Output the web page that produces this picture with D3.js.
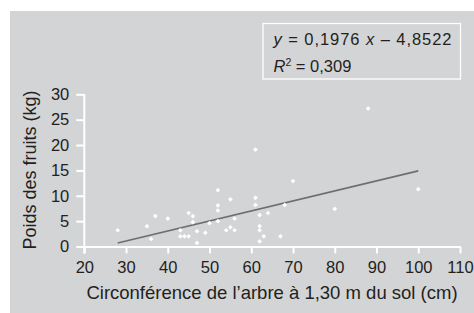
<!DOCTYPE html>
<html>
<head>
<meta charset="utf-8">
<script src="https://cdn.jsdelivr.net/npm/d3@7"></script>
<style>
  body { margin: 0; background: #fff; }
  svg { display: block; font-family: "Liberation Sans", Arial, sans-serif; }
</style>
</head>
<body>
<svg id="chart" width="474" height="313"></svg>
<script>
// circonférence (cm) / poids des fruits (kg)
const circ = [28, 35, 36, 37, 40, 43, 43, 44, 45, 45, 46, 46, 47, 47, 49, 50,
  52, 52, 52, 52, 54, 55, 55, 56, 56, 61, 61, 61, 62, 62, 62, 62, 63, 64, 67, 68,
  70, 80, 88, 100];
const poids = [3.2, 4.0, 1.5, 6.0, 5.5, 3.2, 2.0, 2.0, 2.0, 6.6, 6.0, 4.8, 3.0, 0.7, 2.7, 4.6,
  11.1, 8.1, 7.1, 5.0, 3.2, 9.3, 3.8, 5.5, 3.2, 19.1, 9.6, 8.2, 6.2, 4.0, 3.2, 1.0, 2.0, 6.6, 2.0, 8.2,
  12.9, 7.4, 27.2, 11.3];
const xTicks = [20, 30, 40, 50, 60, 70, 80, 90, 100, 110];
const yTicks = [0, 5, 10, 15, 20, 25, 30];
const slope = 0.1976, intercept = -4.8522;
const fitRange = [28, 100];

const svg = d3.select("#chart");
const ink = "#231f20";

svg.append("rect")
  .attr("x", 10).attr("y", 11)
  .attr("width", 464).attr("height", 302)
  .attr("fill", "#d3d4d6");

const x = d3.scaleLinear().domain([20, 110]).range([84.3, 460]);
const y = d3.scaleLinear().domain([0, 30]).range([246.5, 94.3]);

// axes
const xAxis = svg.append("g")
  .attr("transform", `translate(0,${y(0)})`)
  .call(d3.axisBottom(x).tickValues(xTicks).tickSize(7).tickPadding(8).tickSizeOuter(0));
const yAxis = svg.append("g")
  .attr("transform", `translate(${x(20)},0)`)
  .call(d3.axisLeft(y).tickValues(yTicks).tickSize(8).tickPadding(7).tickSizeOuter(0));

[xAxis, yAxis].forEach(g => {
  g.select(".domain").attr("stroke", "#fff").attr("stroke-width", 2);
  g.selectAll(".tick line").attr("stroke", "#fff").attr("stroke-width", 2);
  g.selectAll(".tick text")
    .attr("fill", ink)
    .style("font-size", "16.5px")
    .style("font-family", "'Liberation Sans', Arial, sans-serif");
});
// the y axis runs down to the bottom of the x ticks
yAxis.select(".domain").attr("d", `M0,${y(30)}V${y(0) + 7}`);

// regression line
svg.append("line")
  .attr("x1", x(fitRange[0])).attr("y1", y(slope * fitRange[0] + intercept))
  .attr("x2", x(fitRange[1])).attr("y2", y(slope * fitRange[1] + intercept))
  .attr("stroke", "#6d6e70")
  .attr("stroke-width", 1.6);

// points
const diamond = d3.symbol().type(d3.symbolDiamond2).size(14);
svg.append("g")
  .selectAll("path")
  .data(circ.map((c, i) => [c, poids[i]]))
  .join("path")
  .attr("transform", d => `translate(${x(d[0])},${y(d[1])})`)
  .attr("d", diamond)
  .attr("fill", "#fff");

// axis titles
svg.append("text")
  .attr("x", 272).attr("y", 299)
  .attr("text-anchor", "middle")
  .attr("fill", ink)
  .style("font-size", "18.5px")
  .text("Circonférence de l’arbre à 1,30 m du sol (cm)");

svg.append("text")
  .attr("transform", "translate(36,170) rotate(-90)")
  .attr("text-anchor", "middle")
  .attr("fill", ink)
  .style("font-size", "18px")
  .text("Poids des fruits (kg)");

// equation box
svg.append("rect")
  .attr("x", 263).attr("y", 23.5)
  .attr("width", 197.5).attr("height", 55.5)
  .attr("fill", "none")
  .attr("stroke", "#fff")
  .attr("stroke-width", 1.3);

const eq = svg.append("text")
  .attr("x", 273.5).attr("y", 44.5)
  .attr("fill", ink)
  .attr("textLength", 178)
  .style("font-size", "16.5px");
eq.append("tspan").style("font-style", "italic").text("y");
eq.append("tspan").text(" = 0,1976 ");
eq.append("tspan").style("font-style", "italic").text("x");
eq.append("tspan").text(" – 4,8522");

const r2 = svg.append("text")
  .attr("x", 273.5).attr("y", 72)
  .attr("fill", ink)
  .style("font-size", "16.5px");
r2.append("tspan").style("font-style", "italic").text("R");
r2.append("tspan").attr("dy", -6).style("font-size", "10.5px").text("2");
r2.append("tspan").attr("dy", 6).text(" = 0,309");
</script>
</body>
</html>
